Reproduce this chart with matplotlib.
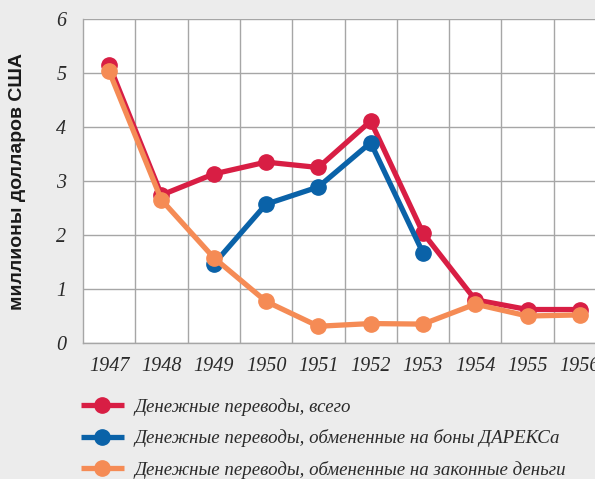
import matplotlib
matplotlib.use("Agg")
import matplotlib.pyplot as plt

years = ["1947", "1948", "1949", "1950", "1951", "1952", "1953", "1954", "1955", "1956"]
total = [5.15, 2.74, 3.13, 3.35, 3.25, 4.11, 2.04, 0.80, 0.62, 0.62]
darex = [None, None, 1.46, 2.57, 2.89, 3.71, 1.67, None, None, None]
legal = [5.03, 2.65, 1.58, 0.77, 0.31, 0.36, 0.35, 0.72, 0.50, 0.52]
labels = ["Денежные переводы, всего",
          "Денежные переводы, обмененные на боны ДАРЕКСа",
          "Денежные переводы, обмененные на законные деньги"]
colors = ["#d81e44", "#0a62a8", "#f58b55"]
yticks = [0, 1, 2, 3, 4, 5, 6]

bg = "#ececec"
fig = plt.figure(figsize=(5.95, 4.79), dpi=100, facecolor=bg)
ax = fig.add_axes([83/595, (479-343)/479, 523/595, (343-19)/479])
ax.set_facecolor("white")

x = list(range(len(years)))
series = [total, darex, legal]
handles = []
for vals, c, lab in zip(series, colors, labels):
    xs = [xi for xi, v in zip(x, vals) if v is not None]
    ys = [v for v in vals if v is not None]
    h, = ax.plot(xs, ys, color=c, lw=3.8, marker="o", ms=11, label=lab,
                 solid_capstyle="butt", zorder=3)
    handles.append(h)

ax.set_xlim(-0.5, len(years) - 0.5)
ax.set_ylim(0, 6)
ax.set_xticks([i + 0.5 for i in range(len(years))], minor=False)
ax.set_xticks(x, minor=True)
ax.set_xticklabels([])
ax.set_xticklabels(years, minor=True)
ax.set_yticks(yticks)
ax.set_yticklabels([str(t) for t in yticks])
ax.grid(True, which="major", color="#a6a6a6", lw=1.0)
ax.set_axisbelow(True)
ax.tick_params(which="both", length=0)
ax.tick_params(axis="x", which="minor", pad=10)
ax.tick_params(axis="y", pad=12)
for lbl in ax.get_xticklabels(minor=True) + ax.get_yticklabels():
    lbl.set_fontfamily("Liberation Serif")
    lbl.set_fontstyle("italic")
    lbl.set_fontsize(14.5)
    lbl.set_color("#2a2a2a")
for s in ["top", "right"]:
    ax.spines[s].set_visible(False)
for s in ["left", "bottom"]:
    ax.spines[s].set_color("#a6a6a6")
    ax.spines[s].set_linewidth(1.0)

fig.text(18/595, 1 - 181/479, "миллионы долларов США", rotation=90,
         ha="center", va="center", fontsize=14, fontweight="bold",
         family="Liberation Sans", color="#1a1a1a")

leg = fig.legend(handles=handles, labels=labels, loc="upper left",
                 bbox_to_anchor=(81/595, 1 - 398/479), frameon=False,
                 handlelength=2.25, handletextpad=0.6, labelspacing=0.72,
                 borderaxespad=0, borderpad=0,
                 prop={"family": "Liberation Serif", "style": "italic", "size": 13.6})
for t in leg.get_texts():
    t.set_color("#2a2a2a")

fig.savefig("out.png", dpi=100, facecolor=bg)
